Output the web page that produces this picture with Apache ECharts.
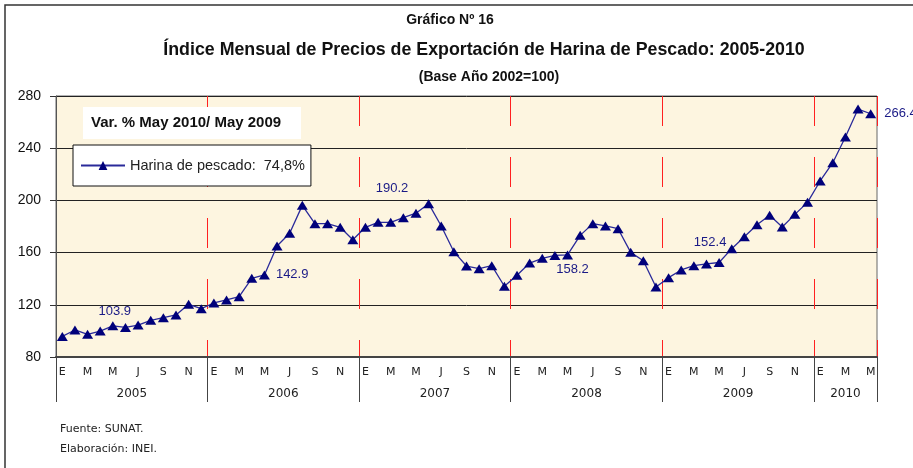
<!DOCTYPE html>
<html>
<head>
<meta charset="utf-8">
<script src="https://cdn.jsdelivr.net/npm/echarts@6/dist/echarts.min.js"></script>
<style>
  html, body { margin: 0; padding: 0; background: #fff; }
  #chart { width: 913px; height: 468px; }
</style>
</head>
<body>
<div id="chart"></div>
<script>
// datos
var years = ["2005", "2006", "2007", "2008", "2009", "2010"];
var monthLetters = ["E", "F", "M", "A", "M", "J", "J", "A", "S", "O", "N", "D"];
var harina = [
  95.8, 100.7, 97.4, 99.9, 103.9, 102.7, 104.5, 108.1, 110.1, 112.2, 120.4, 117.0,
  121.4, 123.7, 126.2, 140.3, 142.9, 165.1, 174.8, 196.2, 182.2, 182.2, 179.4, 169.9,
  179.4, 183.2, 183.2, 186.8, 190.2, 197.5, 180.4, 160.7, 149.7, 147.7, 150.0, 134.2,
  142.6, 152.0, 155.6, 157.8, 158.2, 173.2, 182.2, 180.4, 178.3, 160.2, 153.8, 133.6,
  140.8, 146.7, 150.0, 151.3, 152.4, 163.0, 172.2, 181.4, 188.6, 179.6, 189.3, 198.5,
  214.9, 228.9, 248.6, 270.0, 266.4
];
var labelledIdx = [4, 16, 28, 40, 52, 64];
var yTicks = [80, 120, 160, 200, 240, 280];
var varTitle = "Var. % May 2010/ May 2009";
var varValue = "74,8%";
var seriesName = "Harina de pescado";

// categorias mensuales
var categories = [];
for (var i = 0; i < harina.length; i++) {
  categories.push(years[Math.floor(i / 12)] + "-" + i % 12);
}
var nMonths = categories.length;

// posiciones de las etiquetas
var labelPos = {
  4: { position: "top", distance: 3, offset: [2, 0] },
  16: { position: "right", distance: 6, offset: [0, 0] },
  28: { position: "top", distance: 3, offset: [-24, -11] },
  40: { position: "bottom", distance: 3, offset: [5, 0] },
  52: { position: "top", distance: 3, offset: [-9, -6] },
  64: { position: "right", distance: 8, offset: [0, 0] }
};

var seriesData = harina.map(function (v, i) {
  if (labelledIdx.indexOf(i) < 0) return v;
  var p = labelPos[i];
  return {
    value: v,
    label: {
      show: true,
      position: p.position,
      distance: p.distance,
      offset: p.offset,
      formatter: function (prm) { return prm.value.toFixed(1); },
      color: "#1a1a86",
      fontSize: 13,
      fontFamily: "Liberation Sans"
    }
  };
});

var yearTicks = years.map(function (y, i) { return i * 12; }).concat([nMonths]);
var yearCenters = years.map(function (y, i) {
  return i * 12 + Math.min(12, nMonths - i * 12) / 2;
});

var chart = echarts.init(document.getElementById("chart"));
var option = {
  animation: false,
  backgroundColor: "#fff",
  grid: {
    left: 56, right: 36, top: 96, height: 261,
    show: true,
    backgroundColor: "#fdf5e0",
    borderColor: "#666",
    borderWidth: 1
  },
  legend: {
    left: 73, top: 145,
    orient: "horizontal",
    backgroundColor: "#fff",
    borderColor: "#111",
    borderWidth: 1,
    padding: [13, 6, 13, 7],
    itemWidth: 44,
    itemHeight: 11,
    textStyle: { fontSize: 14.5, color: "#222", fontFamily: "Liberation Sans" },
    formatter: function (name) { return name + ":  " + varValue; },
    data: [seriesName]
  },
  xAxis: [
    {
      type: "category",
      data: categories,
      boundaryGap: true,
      axisLine: { lineStyle: { color: "#444", width: 2 } },
      axisTick: { show: false },
      axisLabel: {
        interval: function (idx) { return idx % 2 === 0; },
        formatter: function (v) { return monthLetters[+v.split("-")[1]]; },
        margin: 10,
        fontSize: 11,
        color: "#222",
        fontFamily: "DejaVu Sans"
      },
      splitLine: {
        show: true,
        interval: function (idx) { return idx % 12 === 0 && idx > 0; },
        lineStyle: { color: "#ff2020", width: 1, type: [30, 31] }
      }
    },
    {
      type: "value",
      min: 0,
      max: nMonths,
      position: "bottom",
      axisLine: { show: false },
      splitLine: { show: false },
      axisTick: {
        show: true,
        customValues: yearTicks,
        length: 45,
        lineStyle: { color: "#444", width: 1 }
      },
      axisLabel: {
        customValues: yearCenters,
        formatter: function (v) {
          var k = yearCenters.indexOf(v);
          return k >= 0 ? years[k] : "";
        },
        margin: 31,
        fontSize: 12,
        color: "#222",
        fontFamily: "DejaVu Sans"
      }
    }
  ],
  yAxis: {
    type: "value",
    min: yTicks[0],
    max: yTicks[yTicks.length - 1],
    interval: 40,
    axisLine: { show: true, lineStyle: { color: "#555", width: 1 } },
    axisTick: { show: true, length: 6, lineStyle: { color: "#333" } },
    axisLabel: { margin: 15, fontSize: 14, color: "#111", fontFamily: "Liberation Sans" },
    splitLine: { lineStyle: { color: "#222", width: 1 } }
  },
  series: [
    {
      name: seriesName,
      type: "line",
      xAxisIndex: 0,
      data: seriesData,
      symbol: "triangle",
      symbolSize: [11, 9],
      showAllSymbol: true,
      lineStyle: { color: "#2a2a9a", width: 1.3 },
      itemStyle: { color: "#00007a" },
      z: 5
    }
  ],
  graphic: [
    {
      type: "rect",
      z: 0,
      shape: { x: 5, y: 5, width: 940, height: 490 },
      style: { fill: null, stroke: "#333", lineWidth: 1.5 }
    },
    {
      type: "text", x: 450, y: 20, z: 10,
      style: { text: "Gráfico Nº 16", textAlign: "center", textVerticalAlign: "middle",
        font: "bold 14px 'Liberation Sans'", fill: "#111" }
    },
    {
      type: "text", x: 484, y: 50, z: 10,
      style: { text: "Índice Mensual de Precios de Exportación de Harina de Pescado: 2005-2010",
        textAlign: "center", textVerticalAlign: "middle",
        font: "bold 17.8px 'Liberation Sans'", fill: "#111" }
    },
    {
      type: "text", x: 489, y: 77, z: 10,
      style: { text: "(Base Año 2002=100)", textAlign: "center", textVerticalAlign: "middle",
        font: "bold 14px 'Liberation Sans'", fill: "#111" }
    },
    {
      type: "rect", z: 10,
      shape: { x: 83, y: 107, width: 218, height: 32 },
      style: { fill: "#fff", stroke: null }
    },
    {
      type: "text", x: 91, y: 123, z: 11,
      style: { text: varTitle, textAlign: "left", textVerticalAlign: "middle",
        font: "bold 15px 'Liberation Sans'", fill: "#111" }
    },
    {
      type: "text", x: 60, y: 429, z: 10,
      style: { text: "Fuente: SUNAT.", textAlign: "left", textVerticalAlign: "middle",
        font: "11px 'DejaVu Sans'", fill: "#222" }
    },
    {
      type: "text", x: 60, y: 449, z: 10,
      style: { text: "Elaboración: INEI.", textAlign: "left", textVerticalAlign: "middle",
        font: "11px 'DejaVu Sans'", fill: "#222" }
    }
  ]
};
chart.setOption(option);
</script>
</body>
</html>
